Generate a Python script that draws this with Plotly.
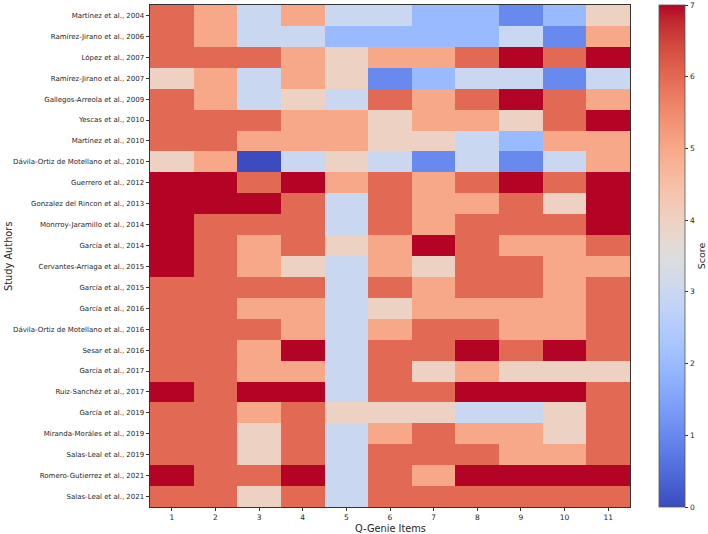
import plotly.graph_objects as go

studies = [
    "Martínez et al., 2004",
    "Ramírez-Jirano et al., 2006",
    "López et al., 2007",
    "Ramírez-Jirano et al., 2007",
    "Gallegos-Arreola et al., 2009",
    "Yescas et al., 2010",
    "Martínez et al., 2010",
    "Dávila-Ortiz de Motellano et al., 2010",
    "Guerrero et al., 2012",
    "Gonzalez del Rincon et al., 2013",
    "Monrroy-Jaramillo et al., 2014",
    "García et al., 2014",
    "Cervantes-Arriaga et al., 2015",
    "García et al., 2015",
    "García et al., 2016",
    "Dávila-Ortiz de Motellano et al., 2016",
    "Sesar et al., 2016",
    "García et al., 2017",
    "Ruiz-Sanchéz et al., 2017",
    "García et al., 2019",
    "Miranda-Moráles et al., 2019",
    "Salas-Leal et al., 2019",
    "Romero-Gutierrez et al., 2021",
    "Salas-Leal et al., 2021",
]

items = [str(i) for i in range(1, 12)]

scores = [
    [6, 5, 3, 5, 3, 3, 2, 2, 1, 2, 4],
    [6, 5, 3, 3, 2, 2, 2, 2, 3, 1, 5],
    [6, 6, 6, 5, 4, 5, 5, 6, 7, 6, 7],
    [4, 5, 3, 5, 4, 1, 2, 3, 3, 1, 3],
    [6, 5, 3, 4, 3, 6, 5, 6, 7, 6, 5],
    [6, 6, 6, 5, 5, 4, 5, 5, 4, 6, 7],
    [6, 6, 5, 5, 5, 4, 4, 3, 2, 5, 5],
    [4, 5, 0, 3, 4, 3, 1, 3, 1, 3, 5],
    [7, 7, 6, 7, 5, 6, 5, 6, 7, 6, 7],
    [7, 7, 7, 6, 3, 6, 5, 5, 6, 4, 7],
    [7, 6, 6, 6, 3, 6, 5, 6, 6, 6, 7],
    [7, 6, 5, 6, 4, 5, 7, 6, 5, 5, 6],
    [7, 6, 5, 4, 3, 5, 4, 6, 6, 5, 5],
    [6, 6, 6, 6, 3, 6, 5, 6, 6, 5, 6],
    [6, 6, 5, 5, 3, 4, 5, 5, 5, 5, 6],
    [6, 6, 6, 5, 3, 5, 6, 6, 5, 5, 6],
    [6, 6, 5, 7, 3, 6, 6, 7, 6, 7, 6],
    [6, 6, 5, 5, 3, 6, 4, 5, 4, 4, 4],
    [7, 6, 7, 7, 3, 6, 6, 7, 7, 7, 6],
    [6, 6, 5, 6, 4, 4, 4, 3, 3, 4, 6],
    [6, 6, 4, 6, 3, 5, 6, 5, 5, 4, 6],
    [6, 6, 4, 6, 3, 6, 6, 6, 5, 5, 6],
    [7, 6, 6, 7, 3, 6, 5, 7, 7, 7, 7],
    [6, 6, 4, 6, 3, 6, 6, 6, 6, 6, 6],
]

# matplotlib "coolwarm" (Moreland) sampled at 33 points
cw = [
    (59, 76, 192), (68, 90, 204), (77, 104, 215), (87, 117, 225), (98, 130, 234),
    (108, 142, 241), (119, 154, 247), (130, 165, 251), (141, 176, 254), (152, 185, 255),
    (163, 194, 255), (174, 201, 253), (184, 208, 249), (194, 213, 244), (204, 217, 238),
    (213, 219, 230), (221, 221, 221), (229, 216, 209), (236, 211, 197), (241, 204, 185),
    (245, 196, 173), (247, 187, 160), (247, 177, 148), (247, 166, 135), (244, 154, 123),
    (241, 141, 111), (236, 127, 99), (229, 112, 88), (222, 96, 77), (213, 80, 66),
    (203, 62, 56), (192, 40, 47), (180, 4, 38),
]
colorscale = [[i / (len(cw) - 1), "rgb(%d,%d,%d)" % c] for i, c in enumerate(cw)]

W, H = 708, 534
L, R, T, B = 150, 630, 5, 507
PW, PH = R - L, B - T
font = "DejaVu Sans, Arial, sans-serif"
txt = "#262626"

fig = go.Figure(
    go.Heatmap(
        z=scores,
        x=items,
        y=studies,
        zmin=0,
        zmax=7,
        colorscale=colorscale,
        colorbar=dict(
            title=dict(text="Score", side="right", font=dict(size=9.5, color=txt, family=font)),
            x=(659 - L) / PW,
            xanchor="left",
            y=0,
            yanchor="bottom",
            lenmode="fraction",
            len=1,
            thickness=26,
            xpad=0,
            ypad=0,
            outlinewidth=0.8,
            outlinecolor="#555555",
            tickmode="array",
            tickvals=list(range(0, 8)),
            ticktext=[str(v) for v in range(0, 8)],
            ticks="outside",
            ticklen=3.5,
            tickwidth=0.8,
            tickcolor="#333333",
            tickfont=dict(size=7.5, color=txt, family=font),
        ),
    )
)

fig.update_layout(
    width=W,
    height=H,
    margin=dict(l=L, r=W - R, t=T, b=H - B, autoexpand=False),
    paper_bgcolor="white",
    plot_bgcolor="white",
    font=dict(family=font, color=txt),
    xaxis=dict(
        type="category",
        showline=True,
        linecolor="#333333",
        linewidth=0.8,
        mirror=True,
        ticks="outside",
        ticklen=3.5,
        tickwidth=0.8,
        tickcolor="#333333",
        tickfont=dict(size=7.5, color=txt, family=font),
        showgrid=False,
        zeroline=False,
        automargin=False,
    ),
    yaxis=dict(
        type="category",
        autorange="reversed",
        showline=True,
        linecolor="#333333",
        linewidth=0.8,
        mirror=True,
        ticks="outside",
        ticklen=3.5,
        tickwidth=0.8,
        tickcolor="#333333",
        tickfont=dict(size=7, color=txt, family=font),
        showgrid=False,
        zeroline=False,
        automargin=False,
    ),
    annotations=[
        dict(
            text="Q-Genie Items",
            xref="paper", yref="paper",
            x=0.5, y=-(528 - B) / PH,
            xanchor="center", yanchor="middle",
            showarrow=False,
            font=dict(size=9.8, color=txt, family=font),
        ),
        dict(
            text="Study Authors",
            xref="paper", yref="paper",
            x=-(L - 8) / PW, y=0.5,
            xanchor="center", yanchor="middle",
            textangle=-90,
            showarrow=False,
            font=dict(size=9.8, color=txt, family=font),
        ),
    ],
)

fig.write_html("out.html")
